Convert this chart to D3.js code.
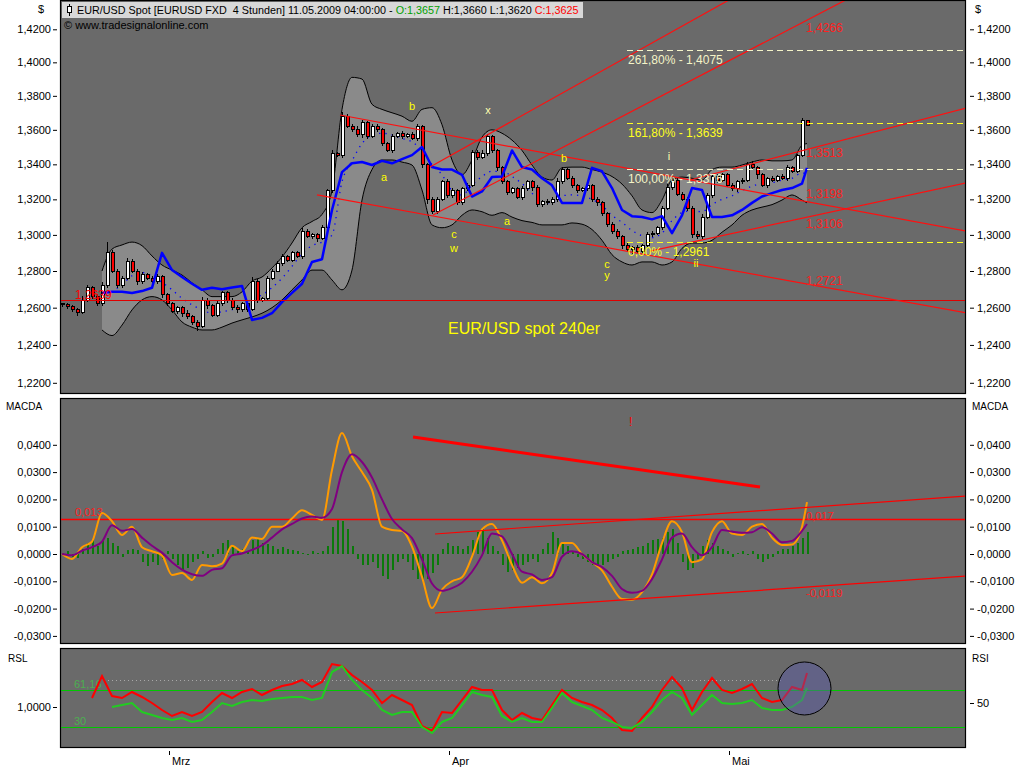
<!DOCTYPE html>
<html><head><meta charset="utf-8">
<script src="https://cdn.jsdelivr.net/npm/d3@7/dist/d3.min.js"></script>
<style>html,body{margin:0;padding:0;background:#fff;overflow:hidden}svg{display:block}text{font-family:"Liberation Sans",Arial,sans-serif}</style>
</head><body><svg id="chart" width="1024" height="768"></svg>
<script>
// ---------------- DATA ----------------
const firstOpen = 1.2620;
const closes = [
1.2615,1.2605,1.2590,1.2575,1.2640,1.2710,1.2660,1.2620,1.2720,1.2900,
1.2800,1.2720,1.2760,1.2850,1.2800,1.2740,1.2780,1.2760,1.2740,1.2770,
1.2670,1.2620,1.2580,1.2600,1.2570,1.2550,1.2520,1.2500,1.2640,1.2610,
1.2560,1.2620,1.2680,1.2640,1.2600,1.2590,1.2620,1.2590,1.2740,1.2640,
1.2650,1.2760,1.2800,1.2840,1.2880,1.2860,1.2900,1.2880,1.3020,1.2990,
1.3000,1.2980,1.3040,1.3250,1.3460,1.3450,1.3680,1.3620,1.3600,1.3570,
1.3640,1.3560,1.3620,1.3600,1.3520,1.3480,1.3560,1.3580,1.3560,1.3570,
1.3550,1.3620,1.3400,1.3200,1.3130,1.3200,1.3300,1.3220,1.3250,1.3180,
1.3260,1.3280,1.3470,1.3440,1.3460,1.3560,1.3480,1.3380,1.3300,1.3240,
1.3260,1.3210,1.3260,1.3300,1.3270,1.3170,1.3190,1.3180,1.3200,1.3300,
1.3370,1.3320,1.3280,1.3250,1.3260,1.3280,1.3200,1.3180,1.3120,1.3060,
1.3020,1.2990,1.2940,1.2920,1.2930,1.2910,1.2940,1.3000,1.3010,1.3040,
1.3150,1.3270,1.3310,1.3230,1.3200,1.3150,1.3000,1.2990,1.3100,1.3220,
1.3330,1.3310,1.3340,1.3280,1.3260,1.3300,1.3310,1.3400,1.3380,1.3340,
1.3280,1.3320,1.3310,1.3330,1.3320,1.3380,1.3360,1.3450,1.3655,1.3625];
const wickUp = [ // pips above body
8,10,12,8,25,12,10,15,20,60, 15,12,10,20,15,10,12,8,10,12,
10,8,12,10,8,15,10,12,20,10, 12,15,10,8,10,12,10,8,25,15,
10,12,10,15,12,10,12,10,20,12, 10,12,15,10,20,10,25,15,12,20,
15,10,12,15,10,12,15,10,12,10, 20,12,10,10,15,12,10,15,12,10,
12,15,15,12,20,15,12,10,12,10, 10,12,15,10,12,10,8,10,15,20,
15,10,12,10,12,15,10,12,10,8, 10,12,10,15,10,12,10,15,10,12,
15,20,15,12,10,12,10,20,15,15, 15,12,10,12,15,10,12,15,20,10,
12,10,15,10,12,15,12,10,15,5];
const wickDn = [ // pips below body
10,12,15,20,10,8,15,12,10,12, 10,15,12,10,12,15,10,12,15,10,
15,12,10,15,20,12,15,25,10,15, 12,10,12,15,10,20,12,15,10,12,
10,12,10,8,12,10,8,10,12,10, 12,20,10,15,12,10,15,12,10,12,
15,12,10,12,15,10,12,10,12,10, 12,15,20,25,12,15,10,15,12,10,
12,10,12,15,10,12,15,20,12,15, 12,10,15,12,20,15,12,10,12,15,
12,10,15,12,10,12,15,20,12,15, 15,12,20,15,25,12,10,15,12,10,
12,10,15,12,10,15,20,15,12,10, 12,15,10,12,15,20,12,10,15,25,
12,15,10,12,10,15,12,10,10,5];

// indicator samples: one value every second bar (last one = last bar)
const bandUpper = [null,null,null,null,
1.2800,1.2921,1.2944,1.2960,1.2940,1.2883,1.2833,1.2805,1.2778,1.2735,
1.2697,1.2660,1.2660,1.2660,1.2686,1.2745,1.2767,1.2817,1.2877,1.2955,
1.3040,1.3075,1.3115,1.3250,1.3720,1.3910,1.3900,1.3750,1.3720,1.3700,
1.3680,1.3650,1.3720,1.3730,1.3630,1.3425,1.3340,1.3425,1.3557,1.3600,
1.3580,1.3540,1.3480,1.3396,1.3327,1.3310,1.3380,1.3384,1.3384,1.3370,
1.3355,1.3330,1.3287,1.3220,1.3140,1.3125,1.3196,1.3310,1.3327,1.3320,
1.3310,1.3370,1.3384,1.3384,1.3396,1.3413,1.3425,1.3420,1.3420,1.3425,
1.3510,1.3520];
const bandLower = [null,null,null,null,
1.2480,1.2450,1.2506,1.2588,1.2642,1.2660,1.2642,1.2588,1.2523,1.2495,
1.2480,1.2480,1.2495,1.2517,1.2534,1.2550,1.2570,1.2600,1.2642,1.2697,
1.2751,1.2805,1.2805,1.2751,1.2697,1.2805,1.3196,1.3370,1.3425,1.3425,
1.3413,1.3396,1.3253,1.3056,1.3040,1.3056,1.3110,1.3140,1.3130,1.3110,
1.3125,1.3100,1.3080,1.3070,1.3056,1.3056,1.3056,1.3067,1.3060,1.3030,
1.2970,1.2890,1.2850,1.2833,1.2850,1.2850,1.2833,1.2850,1.2925,1.2955,
1.2955,1.2970,1.3015,1.3056,1.3110,1.3140,1.3156,1.3170,1.3196,1.3225,
1.3196,1.3180];
const bandMid = [null,null,null,null,
1.2640,1.2686,1.2725,1.2774,1.2791,1.2772,1.2738,1.2697,1.2651,1.2615,
1.2589,1.2570,1.2578,1.2589,1.2610,1.2648,1.2669,1.2709,1.2760,1.2826,
1.2896,1.2940,1.2960,1.3000,1.3300,1.3420,1.3520,1.3570,1.3580,1.3570,
1.3550,1.3530,1.3480,1.3400,1.3340,1.3250,1.3225,1.3280,1.3330,1.3360,
1.3360,1.3330,1.3290,1.3235,1.3190,1.3180,1.3220,1.3225,1.3220,1.3200,
1.3165,1.3110,1.3070,1.3025,1.2995,1.2985,1.3010,1.3080,1.3125,1.3135,
1.3130,1.3170,1.3200,1.3220,1.3250,1.3275,1.3290,1.3295,1.3310,1.3320,
1.3350,1.3350];
const blueLine = [null,null,null,null,
1.2680,1.2686,1.2686,1.2680,1.2690,1.2708,1.2900,1.2805,1.2767,1.2730,
1.2697,1.2708,1.2700,1.2710,1.2718,1.2534,1.2545,1.2570,1.2630,1.2680,
1.2730,1.2850,1.2865,1.3140,1.3355,1.3406,1.3413,1.3396,1.3420,1.3406,
1.3430,1.3453,1.3500,1.3385,1.3370,1.3370,1.3340,1.3216,1.3245,1.3327,
1.3330,1.3480,1.3384,1.3370,1.3320,1.3280,1.3180,1.3180,1.3180,1.3380,
1.3360,1.3264,1.3140,1.3105,1.3100,1.3087,1.3105,1.3010,1.3110,1.3264,
1.3253,1.3100,1.3100,1.3110,1.3140,1.3180,1.3216,1.3235,1.3253,1.3264,
1.3290,1.3380];

const macdLine = [
0.0000,-0.0018,0.0025,0.0045,0.0150,0.0120,0.0070,0.0100,0.0025,0.0010,
-0.0005,-0.0077,-0.0070,-0.0095,-0.0040,-0.0045,-0.0035,0.0030,0.0010,0.0060,
0.0055,0.0100,0.0100,0.0130,0.0160,0.0143,0.0125,0.0308,0.0443,0.0358,
0.0300,0.0235,0.0100,0.0088,0.0085,0.0027,-0.0084,-0.0198,-0.0130,-0.0100,
-0.0085,-0.0010,0.0090,0.0110,0.0050,-0.0040,-0.0105,-0.0085,-0.0107,-0.0070,
0.0040,0.0040,0.0000,-0.0030,-0.0060,-0.0120,-0.0165,-0.0168,-0.0140,-0.0075,
0.0040,0.0120,0.0080,-0.0030,-0.0020,0.0080,0.0120,0.0075,0.0070,0.0100,
0.0110,0.0060,0.0033,0.0035,0.0100,0.0190];
const signalLine = [
0.0000,-0.0005,0.0012,0.0025,0.0045,0.0105,0.0085,0.0092,0.0060,0.0030,
0.0005,-0.0030,-0.0057,-0.0074,-0.0080,-0.0058,-0.0052,-0.0005,0.0002,0.0015,
0.0032,0.0060,0.0090,0.0110,0.0130,0.0137,0.0133,0.0165,0.0300,0.0365,
0.0337,0.0280,0.0200,0.0128,0.0090,0.0058,-0.0020,-0.0108,-0.0135,-0.0125,
-0.0105,-0.0065,-0.0005,0.0075,0.0065,0.0000,-0.0065,-0.0075,-0.0095,-0.0085,
-0.0010,0.0010,0.0000,-0.0030,-0.0048,-0.0080,-0.0128,-0.0142,-0.0135,-0.0092,
-0.0020,0.0060,0.0075,0.0025,-0.0005,0.0025,0.0088,0.0082,0.0078,0.0080,
0.0098,0.0075,0.0043,0.0048,0.0085,0.0110];
const macdHist = [ // one per bar
0.0005,0.001,-0.001,-0.0015, 0.002,0.004,0.005, 0.003, 0.005,0.006,0.004, 0.003,
-0.001,0.0015, 0.002,0.0015, -0.003,-0.0045, -0.003,-0.004,-0.002, 0.001,-0.002,
-0.004,-0.006,-0.005,-0.003, -0.002,0.001, -0.0015,-0.001, 0.002,0.004,0.005,
0.003,0.001, 0.002,0.001, 0.005,0.006,0.004, 0.0035,0.003,0.002,
0.0025,0.002,0.0015,0.001, 0.0005,-0.0005,0.001,0.0005, 0.001,0.003,
0.010,0.013,0.012,0.009, 0.003,-0.002, -0.004,-0.004,-0.003,-0.005,
-0.008,-0.009,-0.006, -0.003,-0.002,-0.003, -0.006,-0.009,-0.010,
-0.009,-0.007,-0.004, 0.002,0.004,0.003, 0.003,0.002,0.003,
0.005,0.008,0.009,0.006, 0.003,0.001, -0.004,-0.0065,-0.006,-0.005,
-0.004,-0.003,-0.002,-0.003, 0.002,0.004, 0.008,0.006,0.004, 0.003,0.001,
-0.001,-0.002,-0.003,-0.004, -0.0045,-0.004,-0.003,-0.002, -0.001,0.001,0.0015,
0.002,0.0025,0.003, 0.004,0.005,0.0055, 0.006,0.008,0.009, 0.004,-0.003,-0.006,
-0.005,-0.002, 0.003,0.005,0.004, 0.003,0.002,0.001, -0.001,0.0005,0.001,-0.0005,
0.001,-0.002,-0.003,-0.002, -0.001,0.001,0.002, 0.002,0.003,0.004,0.006,0.008];

const rslLine = [null,null,null,
1.009,1.031,1.011,1.009,1.015,1.010,1.004,0.997,0.991,0.995,
0.991,0.995,1.005,1.014,1.009,1.015,1.018,1.012,1.017,1.021,
1.023,1.027,1.020,1.025,1.043,1.041,1.032,1.025,1.017,1.004,
1.012,1.007,1.002,0.981,0.976,0.995,0.994,1.007,1.020,1.017,
1.017,0.997,0.987,0.994,0.989,0.987,1.002,1.017,1.009,1.005,
1.002,0.997,0.989,0.977,0.976,0.989,1.000,1.017,1.030,1.019,
0.997,1.015,1.029,1.017,1.014,1.018,1.023,1.009,1.005,1.007,
1.020,1.017,1.034];
const rsiLine = [null,null,null,null,null,
46.7,48.3,50.0,42.5,40.0,37.5,35.8,37.5,34.2,35.8,
42.5,50.0,47.5,50.8,52.5,51.7,53.3,54.2,55.0,55.0,
52.5,54.2,75.8,80.8,69.2,60.8,54.2,44.2,40.0,42.5,
42.5,30.0,25.0,34.2,37.5,48.3,59.2,56.7,55.0,39.2,
34.2,37.5,34.2,34.2,45.8,58.3,50.8,47.5,44.2,37.5,
34.2,30.0,29.2,34.2,42.5,52.5,59.2,54.2,40.0,48.3,
56.7,50.0,49.2,50.0,52.5,45.8,44.2,44.2,46.7,52.5,
62.5];

const priceTicks = [1.42,1.40,1.38,1.36,1.34,1.32,1.30,1.28,1.26,1.24,1.22];
const macdTicks = [0.04,0.03,0.02,0.01,0,-0.01,-0.02,-0.03];
const rsiLevels = [61.16, 30];
const months = [["Mrz",21.4],["Apr",77.4],["Mai",133.4]];

// annotations (bar index, price)
const priceTrendlines = [
  [51, 1.3225, 111.6, 1.2916],
  [55.6, 1.3687, 111.6, 1.3385],
  [73.6, 1.3385, 107.6, 1.3942],
  [74.2, 1.3112, 107.6, 1.3611],
  [117.6, 1.2910, 180.8, 1.3293],
  [125.6, 1.3310, 180.8, 1.3728]];
const priceLevelLabels = [["1,4266",1.4184],["1,3513",1.3442],["1,3198",1.3208],["1,3106",1.3039],["1,2721",1.2721]];
const fibLevels = [["261,80%",1.4075],["161,80%",1.3639],["100,00%",1.3376],["0,00%",1.2961]];
const fibStartBar = 113;
const waveLabels = [["b",70,1.3716],["a",64.4,1.3303],["x",85.2,1.3693],["c",78.4,1.2983],["w",78.4,1.2905],
  ["a",89,1.3055],["b",100.4,1.3413],["c",109,1.2816],["y",109,1.2756],["i",121.4,1.3425],["ii",126.8,1.2822]];
const supportLevel = 1.2639;
const macdLevel = 0.013;
const macdTrendlines = [
  [70.2, 0.04286, 139.6, 0.02454, false],
  [74.6, 0.00733, 180.8, 0.02125, true],
  [74.6, -0.02161, 180.8, -0.00806, true]];
const macdLabels = [["0,017",148.8,0.0125],["-0,0119",148.8,-0.0158]];

// ---------------- LAYOUT ----------------
const svg = d3.select("#chart");
const L = 60, R = 966;
const P = {mainTop:0, mainBot:394, macdTop:398, macdBot:644, rslTop:648, rslBot:748};
const N = closes.length;
const x = d3.scaleLinear().domain([0, N-1]).range([62, 807]);
const yP = d3.scaleLog().domain([1.42,1.22]).range([29.3,382.8]);
const yM = d3.scaleLinear().domain([-0.03,0.04]).range([635.9,444.8]);
const yR = d3.scaleLinear().domain([30,50]).range([727,703]);
const yS = d3.scaleLinear().domain([1.0,1.04]).range([707,667]);
const barOf = k => Math.min(2*k, N-1);
const fmt4 = d => d3.format(".4f")(d).replace(".",",").replace("\u2212","-");

svg.append("rect").attr("width",1024).attr("height",768).attr("fill","#fff");

function panel(y0,y1,id){
  svg.append("rect").attr("x",L+0.5).attr("y",y0+0.5).attr("width",R-L-1).attr("height",y1-y0-1)
    .attr("fill","#6a6a6a").attr("stroke","#000").attr("stroke-width",1.2);
  svg.append("clipPath").attr("id",id).append("rect").attr("x",L+1).attr("y",y0+1).attr("width",R-L-2).attr("height",y1-y0-2);
  return svg.append("g").attr("clip-path",`url(#${id})`);
}
const gMain = panel(P.mainTop,P.mainBot,"cpMain");
const gMacd = panel(P.macdTop,P.macdBot,"cpMacd");
const gRsl = panel(P.rslTop,P.rslBot,"cpRsl");

function axisStyle(g){
  g.select(".domain").remove();
  g.selectAll("line").attr("stroke","#000");
  g.selectAll("text").attr("font-size",11).attr("fill","#000").style("font-family","'Liberation Sans',Arial,sans-serif");
}
// price axes
svg.append("g").attr("transform","translate(57,0)")
  .call(d3.axisLeft(yP).tickValues(priceTicks).tickFormat(fmt4).tickSize(4).tickPadding(2)).call(axisStyle);
svg.append("g").attr("transform","translate(970,0)")
  .call(d3.axisRight(yP).tickValues(priceTicks).tickFormat(fmt4).tickSize(4).tickPadding(3)).call(axisStyle);
svg.append("g").attr("transform","translate(57,0)")
  .call(d3.axisLeft(yM).tickValues(macdTicks).tickFormat(fmt4).tickSize(4).tickPadding(2)).call(axisStyle);
svg.append("g").attr("transform","translate(970,0)")
  .call(d3.axisRight(yM).tickValues(macdTicks).tickFormat(fmt4).tickSize(4).tickPadding(3)).call(axisStyle);
svg.append("g").attr("transform","translate(57,0)")
  .call(d3.axisLeft(yS).tickValues([1.0]).tickFormat(fmt4).tickSize(4).tickPadding(2)).call(axisStyle);
svg.append("g").attr("transform","translate(970,0)")
  .call(d3.axisRight(yR).tickValues([50]).tickFormat(d=>d).tickSize(4).tickPadding(3)).call(axisStyle);

const lab = (t,xx,yy,opt={}) => svg.append("text").attr("x",xx).attr("y",yy).text(t)
  .attr("font-size",opt.size||11).attr("fill",opt.fill||"#000").attr("text-anchor",opt.anchor||"start");
lab("$",38,13); lab("$",975,13);
lab("MACDA",6,410,{size:10}); lab("MACDA",972,410,{size:10});
lab("RSL",8,662,{size:10}); lab("RSI",972,662,{size:10});
months.forEach(([m,b])=>{
  svg.append("line").attr("x1",Math.round(x(b))+0.5).attr("x2",Math.round(x(b))+0.5).attr("y1",751).attr("y2",755).attr("stroke","#000");
  lab(m,x(b)+3,765);
});

// ---------------- MAIN PANEL ----------------
const ser = arr => arr.map((v,k)=>({b:barOf(k),v}));
const lineP = d3.line().defined(d=>d.v!=null).x(d=>x(d.b)).y(d=>yP(d.v));
const bandData = bandUpper.map((u,k)=>({b:barOf(k),u,l:bandLower[k]}));
gMain.append("path").datum(bandData)
  .attr("d",d3.area().defined(d=>d.u!=null).x(d=>x(d.b)).y0(d=>yP(d.l)).y1(d=>yP(d.u)).curve(d3.curveMonotoneX))
  .attr("fill","#8a8a8a");
const lineC = d3.line().defined(d=>d.v!=null).x(d=>x(d.b)).y(d=>yP(d.v)).curve(d3.curveMonotoneX);
[bandUpper,bandLower].forEach(a=>gMain.append("path").datum(ser(a)).attr("d",lineC).attr("fill","none").attr("stroke","#000").attr("stroke-width",1));
gMain.append("path").datum(ser(bandMid)).attr("d",lineC).attr("fill","none").attr("stroke","#0000ff").attr("stroke-width",1.3).attr("stroke-dasharray","1.3,5");

const candles = closes.map((c,i)=>{const o=i===0?firstOpen:closes[i-1];
  return {i,o,c,h:Math.max(o,c)+wickUp[i]/1e4,l:Math.min(o,c)-wickDn[i]/1e4};});
const cg = gMain.append("g").attr("shape-rendering","crispEdges");
cg.selectAll("line").data(candles).join("line")
  .attr("x1",d=>Math.round(x(d.i))+0.5).attr("x2",d=>Math.round(x(d.i))+0.5)
  .attr("y1",d=>yP(d.h)).attr("y2",d=>yP(d.l)).attr("stroke","#000");
cg.selectAll("rect").data(candles).join("rect")
  .attr("x",d=>Math.round(x(d.i))-1).attr("width",3)
  .attr("y",d=>yP(Math.max(d.o,d.c))).attr("height",d=>Math.max(1,yP(Math.min(d.o,d.c))-yP(Math.max(d.o,d.c))))
  .attr("fill",d=>d.c>=d.o?"#fff":"#ff0000").attr("stroke","#000").attr("stroke-width",1);

gMain.append("path").datum(ser(blueLine)).attr("d",lineP).attr("fill","none").attr("stroke","#0000ff").attr("stroke-width",2.5).attr("stroke-linejoin","round");

const ySup = Math.round(yP(supportLevel))+0.5;
gMain.append("line").attr("x1",L).attr("x2",R).attr("y1",ySup).attr("y2",ySup).attr("stroke","#e00000").attr("stroke-width",1);
gMain.append("text").attr("x",75).attr("y",yP(supportLevel)-1).text("1,2639").attr("fill","#ff0000").attr("font-size",12);

function extLine(g,ys,[b1,v1,b2,v2,ext=true],attrs){
  const X1=x(b1),Y1=ys(v1),X2=x(b2),Y2=ys(v2);
  const s=(Y2-Y1)/(X2-X1); const xe=ext?R:X2;
  const ln=g.append("line").attr("x1",X1).attr("y1",Y1).attr("x2",xe).attr("y2",Y1+s*(xe-X1));
  Object.entries(attrs).forEach(([k,v])=>ln.attr(k,v));
}
priceTrendlines.forEach(t=>extLine(gMain,yP,t,{stroke:"#ff1010","stroke-width":1.2}));

fibLevels.forEach(([p,v],j)=>{
  const col = (j===0||j===2)?"#f4f4c8":"#ffff20";
  gMain.append("line").attr("x1",x(fibStartBar)).attr("x2",R).attr("y1",Math.round(yP(v))+0.5).attr("y2",Math.round(yP(v))+0.5)
    .attr("stroke",col).attr("stroke-width",1.2).attr("stroke-dasharray","6,4");
  gMain.append("text").attr("x",x(fibStartBar)+1).attr("y",yP(v)+14).text(`${p} - ${fmt4(v)}`).attr("fill",col).attr("font-size",12);
});
priceLevelLabels.forEach(([t,v])=>gMain.append("text").attr("x",x(148.8)).attr("y",yP(v)).text(t).attr("fill","#ff2020").attr("font-size",12));
waveLabels.forEach(([t,b,v])=>gMain.append("text").attr("x",x(b)).attr("y",yP(v)).text(t).attr("text-anchor","middle")
  .attr("fill",(t==="x"||t==="i")?"#ffffb0":"#ffff00").attr("font-size",11));
gMain.append("text").attr("x",x(92.4)).attr("y",yP(1.2458)).text("EUR/USD spot 240er").attr("text-anchor","middle")
  .attr("fill","#ffff00").attr("font-size",16);

// header
svg.append("rect").attr("x",62).attr("y",2).attr("width",521).attr("height",16).attr("fill","#d8d8d8");
svg.append("line").attr("x1",69.5).attr("x2",69.5).attr("y1",4).attr("y2",16).attr("stroke","#000");
svg.append("rect").attr("x",67.5).attr("y",6.5).attr("width",4).attr("height",6).attr("fill","#fff").attr("stroke","#000");
const ht = svg.append("text").attr("x",77).attr("y",14).attr("font-size",11).attr("fill","#000");
ht.append("tspan").text("EUR/USD Spot [EURUSD FXD\u00a0\u00a04 Stunden] 11.05.2009 04:00:00 - ");
ht.append("tspan").attr("fill","#00a000").text("O:1,3657");
ht.append("tspan").text(" H:1,3660 L:1,3620 ");
ht.append("tspan").attr("fill","#ff0000").text("C:1,3625");
const hw = ht.node().getComputedTextLength();
if (hw > 502) ht.attr("font-size", 11*502/hw);
svg.append("text").attr("x",64).attr("y",29).attr("font-size",11).text("\u00a9 www.tradesignalonline.com");

// ---------------- MACD ----------------
gMacd.append("g").attr("shape-rendering","crispEdges").selectAll("rect").data(macdHist).join("rect")
  .attr("x",(d,i)=>Math.round(x(i))).attr("width",2)
  .attr("y",d=>Math.min(yM(d),yM(0))).attr("height",d=>Math.max(1,Math.abs(yM(d)-yM(0))))
  .attr("fill","#0a7a0a");
const yLev = Math.round(yM(macdLevel))+0.5;
gMacd.append("line").attr("x1",L).attr("x2",R).attr("y1",yLev).attr("y2",yLev).attr("stroke","#ff0000").attr("stroke-width",1.5);
gMacd.append("text").attr("x",75).attr("y",yM(macdLevel)-3).text("0,013").attr("fill","#ff2020").attr("font-size",11);
const lineM = d3.line().x(d=>x(d.b)).y(d=>yM(d.v)).curve(d3.curveMonotoneX);
gMacd.append("path").datum(ser(macdLine)).attr("d",lineM).attr("fill","none").attr("stroke","#ff9a00").attr("stroke-width",2);
gMacd.append("path").datum(ser(signalLine)).attr("d",lineM).attr("fill","none").attr("stroke","#800080").attr("stroke-width",2);
macdTrendlines.forEach((t,j)=>extLine(gMacd,yM,t,{stroke:"#ff0000","stroke-width":j===0?3:1.2}));
macdLabels.forEach(([t,b,v])=>gMacd.append("text").attr("x",x(b)).attr("y",yM(v)).text(t).attr("fill","#ff2020").attr("font-size",11));
gMacd.append("text").attr("x",629).attr("y",426).text("!").attr("fill","#ff0000").attr("font-size",12);

// ---------------- RSL / RSI ----------------
gRsl.append("line").attr("x1",x(9.2)).attr("x2",x(144)).attr("y1",Math.round(yR(69.2))+0.5).attr("y2",Math.round(yR(69.2))+0.5).attr("stroke","#a8a8a8").attr("stroke-dasharray","1,3");
rsiLevels.forEach(v=>gRsl.append("line").attr("x1",L).attr("x2",R).attr("y1",Math.round(yR(v))+0.5).attr("y2",Math.round(yR(v))+0.5).attr("stroke","#00c800").attr("stroke-width",1.2));
gRsl.append("text").attr("x",74).attr("y",yR(61.16)-2).text("61,16").attr("fill","#4caf50").attr("font-size",11);
gRsl.append("text").attr("x",74).attr("y",yR(30)-2).text("30").attr("fill","#4caf50").attr("font-size",11);
gRsl.append("path").datum(ser(rslLine)).attr("d",d3.line().defined(d=>d.v!=null).x(d=>x(d.b)).y(d=>yS(d.v))).attr("fill","none").attr("stroke","#ff0000").attr("stroke-width",2);
gRsl.append("path").datum(ser(rsiLine)).attr("d",d3.line().defined(d=>d.v!=null).x(d=>x(d.b)).y(d=>yR(d.v))).attr("fill","none").attr("stroke","#22cc22").attr("stroke-width",2);
gRsl.append("ellipse").attr("cx",x(148.5)).attr("cy",yR(62.1)).attr("rx",26.5).attr("ry",26.5)
  .attr("fill","#5858a8").attr("fill-opacity",0.45).attr("stroke","#000").attr("stroke-width",1);
</script></body></html>
